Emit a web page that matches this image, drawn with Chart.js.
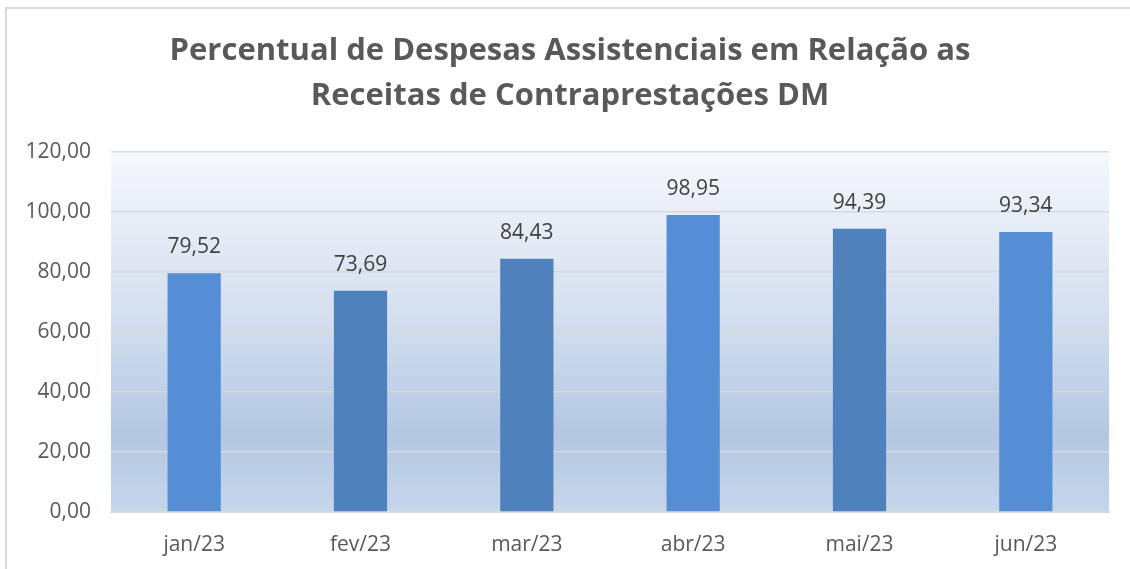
<!DOCTYPE html>
<html>
<head>
<meta charset="utf-8">
<script src="https://cdn.jsdelivr.net/npm/chart.js@4.4.0/dist/chart.umd.min.js"></script>
<style>
  body { margin: 0; background: #fff; overflow: hidden; }
  #frame { position: absolute; left: 5px; top: 7px; width: 1140px; height: 580px; border: 2px solid #d9d9d9; box-sizing: border-box; }
  #wrap { position: absolute; left: 0; top: 0; width: 1130px; height: 569px; }
</style>
</head>
<body>
<div id="frame"></div>
<div id="wrap"><canvas id="myChart"></canvas></div>
<script>
var months = ["jan/23", "fev/23", "mar/23", "abr/23", "mai/23", "jun/23"];
var percentuais = [79.52, 73.69, 84.43, 98.95, 94.39, 93.34];
var barColors = ["#558ed5", "#4f81bd", "#4f81bd", "#558ed5", "#4f81bd", "#558ed5"];
var titleLines = ["Percentual de Despesas Assistenciais em Relação as", "Receitas de Contraprestações DM"];

function fmt(v) {
    return v.toFixed(2).replace(".", ",");
}

// gradient background behind the plot area
var plotBackground = {
    id: "plotBackground",
    beforeDraw: function (chart) {
        var a = chart.chartArea;
        var ctx = chart.ctx;
        var g = ctx.createLinearGradient(0, a.top, 0, a.bottom);
        g.addColorStop(0, "#f5f8fc");
        g.addColorStop(0.5, "#d0dcee");
        g.addColorStop(0.78, "#b3c7e2");
        g.addColorStop(1, "#c6d6eb");
        ctx.save();
        ctx.fillStyle = g;
        ctx.fillRect(a.left, a.top, a.right - a.left, a.bottom - a.top);
        ctx.restore();
    }
};

// value labels above the bars
var valueLabels = {
    id: "valueLabels",
    afterDatasetsDraw: function (chart) {
        var ctx = chart.ctx;
        var meta = chart.getDatasetMeta(0);
        ctx.save();
        ctx.font = "21px 'Open Sans'";
        ctx.fillStyle = "#404040";
        ctx.textAlign = "center";
        ctx.textBaseline = "middle";
        meta.data.forEach(function (bar, i) {
            ctx.fillText(fmt(percentuais[i]), bar.x, bar.y - 26);
        });
        ctx.restore();
    }
};

new Chart("myChart", {
    type: "bar",
    data: {
        labels: months,
        datasets: [
            {
                data: percentuais,
                backgroundColor: barColors,
                barPercentage: 0.32,
                categoryPercentage: 1,
            },
        ],
    },
    options: {
        responsive: true,
        maintainAspectRatio: false,
        animation: false,
        layout: {
            padding: { left: 10, right: 0, top: 0, bottom: 0 },
        },
        scales: {
            x: {
                grid: { display: false, drawTicks: false },
                border: { display: true, color: "#d9d9d9", width: 2 },
                ticks: {
                    color: "#595959",
                    font: { family: "'Open Sans'", size: 21 },
                    padding: 20,
                },
                afterFit: function (scale) { scale.height = 57; },
            },
            y: {
                min: 0,
                max: 120,
                grid: { color: "#d9d9d9", lineWidth: 1.5, drawTicks: false },
                border: { display: false },
                ticks: {
                    stepSize: 20,
                    color: "#595959",
                    font: { family: "'Open Sans'", size: 21 },
                    padding: 20,
                    callback: function (v) { return fmt(v); },
                },
                afterFit: function (scale) { scale.width = 101; },
            },
            // empty right-hand spacer so the plot stops short of the edge
            yRight: {
                position: "right",
                min: 0,
                max: 120,
                grid: { display: false, drawTicks: false },
                border: { display: false },
                ticks: { display: false },
                afterFit: function (scale) { scale.width = 21; },
            },
        },
        plugins: {
            legend: { display: false },
            tooltip: { enabled: false },
            title: {
                display: true,
                text: titleLines,
                color: "#595959",
                font: { family: "'Open Sans'", size: 31, weight: "bold", lineHeight: 1.45 },
                padding: { top: 29, bottom: 33 },
            },
        },
    },
    plugins: [plotBackground, valueLabels],
});
</script>
</body>
</html>
